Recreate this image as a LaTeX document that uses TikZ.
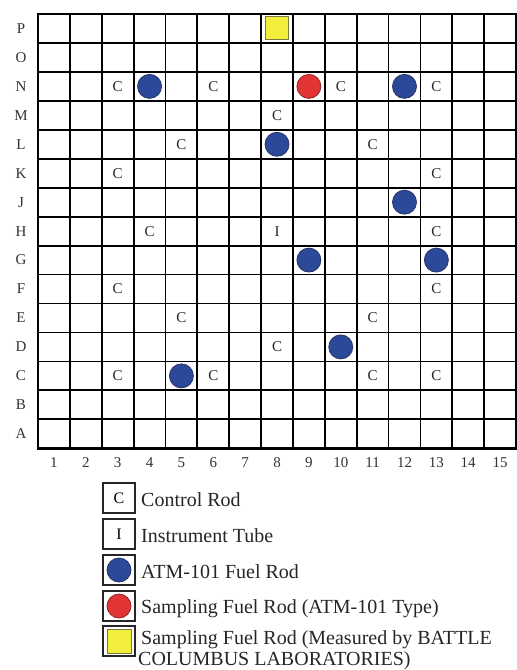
\documentclass[tikz,border=0pt]{standalone}
\usepackage{fontspec}
\setmainfont{Liberation Serif}
\definecolor{rodblue}{RGB}{44,72,152}
\definecolor{rodblueedge}{RGB}{40,52,100}
\definecolor{rodred}{RGB}{226,52,52}
\definecolor{rodrededge}{RGB}{140,40,40}
\definecolor{rodyellow}{RGB}{242,238,60}
\definecolor{rodyellowedge}{RGB}{120,120,60}
\begin{document}
\begin{tikzpicture}[x=1pt,y=-1pt,
  gridline/.style={draw=black,line width=1.8pt},
  gridborder/.style={draw=black,line width=2.4pt},
  lab/.style={inner sep=0pt,font=\fontsize{15}{18}\selectfont,text=black!80},
  ctrl/.style={inner sep=0pt,font=\fontsize{15}{18}\selectfont,text=black!85},
  bluerod/.style={circle,inner sep=0pt,minimum size=24pt,fill=rodblue,draw=rodblueedge,line width=0.8pt},
  redrod/.style={circle,inner sep=0pt,minimum size=24pt,fill=rodred,draw=rodrededge,line width=0.8pt},
  yellowrod/.style={rectangle,inner sep=0pt,minimum size=23pt,fill=rodyellow,draw=rodyellowedge,line width=1pt},
  legbox/.style={rectangle,inner sep=0pt,minimum width=32pt,minimum height=30pt,draw=black!85,line width=2.2pt,font=\fontsize{16}{18}\selectfont},
  legtext/.style={anchor=base west,inner sep=0pt,font=\fontsize{20}{22}\selectfont,text=black!85}
]
\useasboundingbox (0,0) rectangle (517,670);
\fill[white] (0,0) rectangle (517,670);
% grid
\foreach \i in {1,...,14}
  \draw[gridline] ({38+\i*31.87},14) -- ({38+\i*31.87},448.3);
\foreach \i in {1,...,14}
  \draw[gridline] (38,{14+\i*28.95}) -- (516,{14+\i*28.95});
\draw[gridborder] (38,14) rectangle (516,448.3);
% row labels
\foreach \l [count=\i] in {P,O,N,M,L,K,J,H,G,F,E,D,C,B,A}
  \node[lab] (row-\l) at (21,{14+(\i-0.5)*28.95}) {\l};
% column labels
\foreach \c in {1,...,15}
  \node[lab] (col-\c) at ({38+(\c-0.5)*31.87},463) {\c};
% control rods
\foreach \c/\r in {3/3,6/3,10/3,13/3,8/4,5/5,11/5,3/6,13/6,4/8,13/8,3/10,13/10,5/11,11/11,8/12,3/13,6/13,11/13,13/13}
  \node[ctrl] (C-\c-\r) at ({38+(\c-0.5)*31.87},{14+(\r-0.5)*28.95}) {C};
% instrument tube
\node[ctrl] (I-8-8) at ({38+7.5*31.87},{14+7.5*28.95}) {I};
% ATM-101 fuel rods
\foreach \c/\r in {4/3,12/3,8/5,12/7,9/9,13/9,10/12,5/13}
  \node[bluerod] (B-\c-\r) at ({38+(\c-0.5)*31.87},{14+(\r-0.5)*28.95}) {};
% sampling rod
\node[redrod] (R-9-3) at ({38+8.5*31.87},{14+2.5*28.95}) {};
% measured rod
\node[yellowrod] (Y-8-1) at ({38+7.5*31.87},{14+0.5*28.95}) {};
% legend
\node[legbox] (leg1) at (119,498) {C};
\node[legbox] (leg2) at (119,534) {I};
\node[legbox] (leg3) at (119,570) {};
\node[legbox] (leg4) at (119,606) {};
\node[legbox] (leg5) at (119,641) {};
\node[bluerod] (leg3s) at (leg3) {};
\node[redrod] (leg4s) at (leg4) {};
\node[yellowrod,minimum size=24pt] (leg5s) at (leg5) {};
\node[legtext] (leg1t) at (141,506) {Control Rod};
\node[legtext] (leg2t) at (141,542) {Instrument Tube};
\node[legtext] (leg3t) at (141,578) {ATM-101 Fuel Rod};
\node[legtext] (leg4t) at (141,613) {Sampling Fuel Rod (ATM-101 Type)};
\node[legtext] (leg5t) at (141,644) {Sampling Fuel Rod (Measured by BATTLE};
\node[legtext] (leg5u) at (138,665) {COLUMBUS LABORATORIES)};
\end{tikzpicture}
\end{document}
